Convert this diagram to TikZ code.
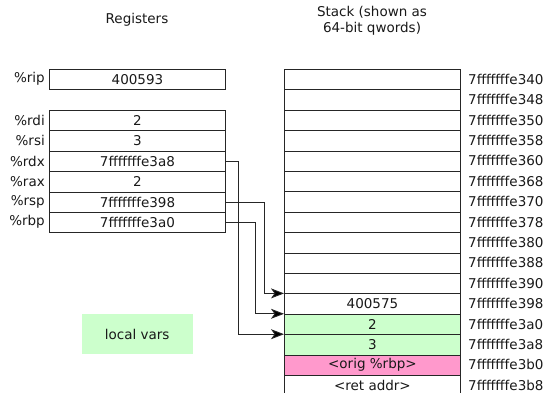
\documentclass[tikz,border=0pt]{standalone}
\usepackage{fontspec}
\setmainfont{DejaVu Sans}
\usetikzlibrary{arrows.meta}
\definecolor{lgreen}{HTML}{CCFFCC}
\definecolor{lpink}{HTML}{FF99CC}
\begin{document}
\begin{tikzpicture}[x=1pt,y=-1pt,
  every node/.style={font=\fontsize{13.5}{16}\selectfont, text=black!90},
  cell/.style={draw=black!85, line width=0.9pt, rectangle, inner sep=0pt,
    minimum width=176pt, minimum height=20.4pt, anchor=north west},
  reglabel/.style={anchor=east, inner sep=0pt},
  addr/.style={anchor=west, inner sep=0pt},
  title/.style={align=center, inner sep=0pt},
  arr/.style={draw=black!85, line width=0.9pt, -{Stealth[length=13pt,width=10pt,inset=3.5pt,fill=black]}}]
\useasboundingbox (0,0) rectangle (546,393);
% titles
\node[title] (regtitle) at (137,20) {Registers};
\node[title] (stktitle) at (372,21) {Stack (shown as\\64-bit qwords)};
% registers
\node[cell] (rip) at (49,69) {400593};
\node[reglabel] (riplab) at (45,79.2) {\%rip};
\foreach \n/\v [count=\i from 0] in {rdi/2, rsi/3, rdx/7fffffffe3a8, rax/2, rsp/7fffffffe398, rbp/7fffffffe3a0}{
  \node[cell] (\n) at (49,{110+20.4*\i}) {\v};
  \node[reglabel] (\n lab) at (45,{120.2+20.4*\i}) {\%\n};
}
% stack
\foreach \a/\v/\c [count=\i from 0] in {340//white,348//white,350//white,358//white,360//white,368//white,370//white,378//white,380//white,388//white,390//white,398/400575/white,3a0/2/lgreen,3a8/3/lgreen,3b0/<orig \%rbp>/lpink,3b8/<ret addr>/white}{
  \node[cell, fill=\c] (s\i) at (284,{69+20.4*\i}) {\v};
  \node[addr] (a\i) at (468,{79.2+20.4*\i}) {7fffffffe\a};
}
% local vars legend
\node[fill=lgreen, minimum width=111pt, minimum height=40pt, inner sep=0pt] (legend) at (137.2,334.2) {local vars};
% pointers
\draw[arr] (rdx.east) -- ++(13,0) |- (s13.north west);
\draw[arr] (rbp.east) -- ++(30,0) |- (s12.north west);
\draw[arr] (rsp.east) -- ++(38.5,0) |- (s11.north west);
\end{tikzpicture}
\end{document}
